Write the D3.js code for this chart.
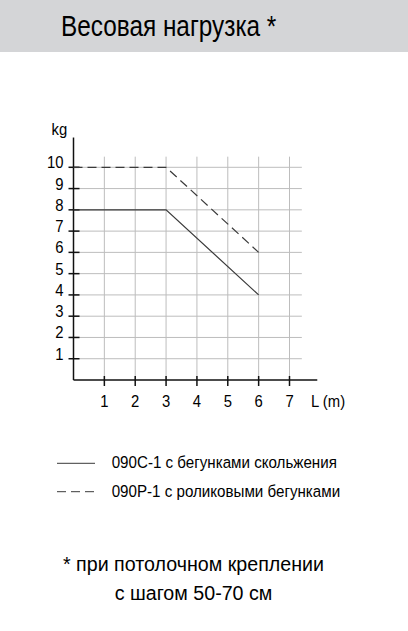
<!DOCTYPE html>
<html>
<head>
<meta charset="utf-8">
<script src="https://cdn.jsdelivr.net/npm/d3@7"></script>
<style>
  body { margin: 0; background: #fff; }
  svg text { font-family: "Liberation Sans", Arial, sans-serif; fill: #000; }
</style>
</head>
<body>
<div id="chart"></div>
<script>
// chart data
const lengths = [0, 3, 6];                 // L (m)
const slidingLoad = [8, 8, 4];             // 090C-1, kg
const rollerLoad = [10, 10, 6];            // 090P-1, kg
const xTicks = [1, 2, 3, 4, 5, 6, 7];
const yTicks = [1, 2, 3, 4, 5, 6, 7, 8, 9, 10];
const legendLabels = ["090C-1 с бегунками скольжения", "090P-1 с роликовыми бегунками"];
const titleText = "Весовая нагрузка *";
const noteLines = ["* при потолочном креплении", "с шагом 50-70 см"];

const width = 408, height = 631;

const svg = d3.select("#chart").append("svg")
    .attr("width", width)
    .attr("height", height);

// text squeezed horizontally, the original uses a narrow face
function addText(parent, x, y, str, size, sx, anchor) {
    return parent.append("text")
        .attr("transform", `translate(${x},${y}) scale(${sx},1)`)
        .attr("text-anchor", anchor || "start")
        .style("font-size", size + "px")
        .text(str);
}

// title bar
svg.append("rect")
    .attr("x", 0).attr("y", 0)
    .attr("width", width).attr("height", 52)
    .attr("fill", "#d4d5d7");
addText(svg, 61, 35.5, titleText, 29, 0.84);

// scales
const x = d3.scaleLinear().domain([0, 7]).range([73.5, 289.5]);
const y = d3.scaleLinear().domain([0, 10]).range([380, 167.3]);

// grid
const grid = svg.append("g").attr("stroke", "#bdbdbd").attr("stroke-width", 1);
grid.selectAll("line.v")
    .data(xTicks)
    .enter().append("line")
    .attr("class", "v")
    .attr("x1", d => x(d)).attr("x2", d => x(d))
    .attr("y1", y(10.5)).attr("y2", y(0));
grid.selectAll("line.h")
    .data(yTicks)
    .enter().append("line")
    .attr("class", "h")
    .attr("x1", x(0)).attr("x2", x(7.4))
    .attr("y1", d => y(d)).attr("y2", d => y(d));

// axes
const axes = svg.append("g").attr("stroke", "#111").attr("stroke-width", 1.5);
axes.append("line")
    .attr("x1", x(0)).attr("x2", x(0))
    .attr("y1", y(11.4)).attr("y2", y(0));
axes.append("line")
    .attr("x1", x(0)).attr("x2", x(7.9))
    .attr("y1", y(0)).attr("y2", y(0));

// ticks crossing the axes
axes.selectAll("line.xt")
    .data(xTicks)
    .enter().append("line")
    .attr("class", "xt")
    .attr("x1", d => x(d)).attr("x2", d => x(d))
    .attr("y1", y(0) - 4).attr("y2", y(0) + 6);
axes.selectAll("line.yt")
    .data(yTicks)
    .enter().append("line")
    .attr("class", "yt")
    .attr("x1", x(0) - 5).attr("x2", x(0) + 6)
    .attr("y1", d => y(d)).attr("y2", d => y(d));

// tick labels
xTicks.forEach(d => addText(svg, x(d), 407, d, 16.5, 0.9, "middle"));
yTicks.forEach(d => addText(svg, 63.5, y(d) + 1, d, 16.5, 0.9, "end"));

addText(svg, 51.5, 135, "kg", 16.5, 0.9);
addText(svg, 311, 407, "L (m)", 16.5, 0.9);

// load lines
const line = d3.line()
    .x(d => x(d[0]))
    .y(d => y(d[1]));

svg.append("path")
    .datum(d3.zip(lengths, slidingLoad))
    .attr("d", line)
    .attr("fill", "none")
    .attr("stroke", "#3a3a3a")
    .attr("stroke-width", 1.2);

svg.append("path")
    .datum(d3.zip(lengths, rollerLoad))
    .attr("d", line)
    .attr("fill", "none")
    .attr("stroke", "#3a3a3a")
    .attr("stroke-width", 1.2)
    .attr("stroke-dasharray", "9,5");

// legend
const legend = svg.append("g");
legendLabels.forEach((label, i) => {
    const ly = 463.3 + i * 28.4;
    legend.append("line")
        .attr("x1", 57).attr("x2", 95)
        .attr("y1", ly).attr("y2", ly)
        .attr("stroke", "#3a3a3a")
        .attr("stroke-width", 1)
        .attr("stroke-dasharray", i === 1 ? "9,5" : null);
    addText(legend, 111.7, ly + 5, label, 16.3, 0.93);
});

// footnote
noteLines.forEach((d, i) => addText(svg, 193.5, 571 + i * 28.5, d, 20.6, 0.955, "middle"));
</script>
</body>
</html>
